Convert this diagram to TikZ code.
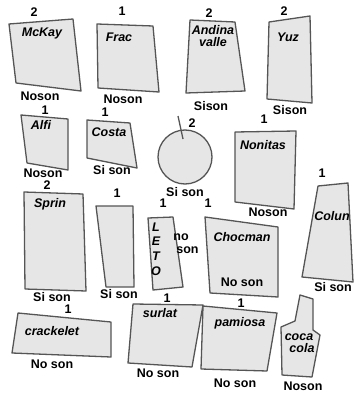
\documentclass[tikz,border=0pt]{standalone}
\usepackage{fontspec}
\setmainfont{Liberation Sans}
\usepackage{tikz}
\definecolor{piecefill}{RGB}{230,230,230}
\definecolor{pieceline}{RGB}{85,85,85}
\tikzstyle{piece} = [draw=pieceline, fill=piecefill, line width=1.3pt, line join=round]
\tikzstyle{piecename} = [font=\fontsize{12.5}{13}\selectfont\bfseries\itshape, inner sep=0pt, align=center]
\tikzstyle{count} = [font=\fontsize{12.5}{13}\selectfont\bfseries, inner sep=0pt]
\tikzstyle{son} = [font=\fontsize{12.5}{13}\selectfont\bfseries, inner sep=0pt, align=left]

\begin{document}
\begin{tikzpicture}[x=1pt, y=-1pt]
    \useasboundingbox (0,0) rectangle (355,393);
    % Define the pieces
    \draw [piece] (9,24) -- (73,19) -- (81,91) -- (16,83) -- cycle;
    \draw [piece] (97,24) -- (153,26) -- (159,92) -- (98,88) -- cycle;
    \draw [piece] (190,20) -- (235,22) -- (245,91) -- (186,93) -- cycle;
    \draw [piece] (269,22) -- (310,16) -- (312,103) -- (267,99) -- cycle;
    \draw [piece] (21,115) -- (68,119) -- (68,170) -- (27,163) -- cycle;
    \draw [piece] (87,120) -- (130,123) -- (137,168) -- (87,158) -- cycle;
    \draw [piece] (185,157) circle (27);
    \draw [draw=pieceline, line width=1.3pt] (178,116) -- (183,139);
    \draw [piece] (235,132) -- (296,131) -- (294,209) -- (235,202) -- cycle;
    \draw [piece] (318,186) -- (348,183) -- (353,282) -- (302,277) -- cycle;
    \draw [piece] (24,192) -- (83,194) -- (86,291) -- (25,289) -- cycle;
    \draw [piece] (96,206) -- (133,206) -- (134,287) -- (106,287) -- cycle;
    \draw [piece] (148,218) -- (173,217) -- (183,287) -- (153,290) -- cycle;
    \draw [piece] (205,217) -- (278,227) -- (278,297) -- (210,293) -- cycle;
    \draw [piece] (18,313) -- (111,322) -- (111,357) -- (12,353) -- cycle;
    \draw [piece] (133,304) -- (203,305) -- (192,367) -- (128,363) -- cycle;
    \draw [piece] (203,306) -- (277,313) -- (267,371) -- (201,369) -- cycle;
    \draw [piece] (300,295) -- (313,299) -- (313,330) -- (320,335) -- (312,377)
        -- (282,375) -- (281,327) -- (295,321) -- cycle;
    % Names
    \node [piecename] (mckay) at (42,33) {McKay};
    \node [piecename] (frac) at (119,37) {Frac};
    \node [piecename] (andina) at (213,36) {Andina\\[-1.5pt]valle};
    \node [piecename] (yuz) at (288,37) {Yuz};
    \node [piecename] (alfi) at (41,125) {Alfi};
    \node [piecename] (costa) at (109,132) {Costa};
    \node [piecename] (nonitas) at (263,145) {Nonitas};
    \node [piecename] (colun) at (332,216) {Colun};
    \node [piecename] (sprin) at (50,204) {Sprin};
    \node [piecename, font=\fontsize{12.5}{14.7}\selectfont\bfseries\itshape] (leto) at (156,249) {L\\E\\T\\O};
    \node [piecename] (chocman) at (242,237) {Chocman};
    \node [piecename] (crackelet) at (52,331) {crackelet};
    \node [piecename] (surlat) at (160,313) {surlat};
    \node [piecename] (pamiosa) at (240,323) {pamiosa};
    \node [piecename] (cocacola) at (299,343) {coca\\[-1.5pt]\hspace*{6pt}cola};
    % Counts
    \node [count] (n1) at (34,12) {2};
    \node [count] (n2) at (122,11) {1};
    \node [count] (n3) at (209,13) {2};
    \node [count] (n4) at (284,11) {2};
    \node [count] (n5) at (45,110) {1};
    \node [count] (n6) at (105,112) {1};
    \node [count] (n7) at (192,123) {2};
    \node [count] (n8) at (264,119) {1};
    \node [count] (n9) at (322,173) {1};
    \node [count] (n10) at (47,185) {2};
    \node [count] (n11) at (117,193) {1};
    \node [count] (n12) at (163,203) {1};
    \node [count] (n13) at (208,203) {1};
    \node [count] (n14) at (68,309) {1};
    \node [count] (n15) at (167,298) {1};
    \node [count] (n16) at (241,303) {1};
    % Sons
    \node [son] (s1) at (40,96) {Noson};
    \node [son] (s2) at (123,99) {Noson};
    \node [son] (s3) at (211,106) {Sison};
    \node [son] (s4) at (290,110) {Sison};
    \node [son] (s5) at (43,173) {Noson};
    \node [son] (s6) at (112,170) {Si son};
    \node [son] (s7) at (185,192) {Si son};
    \node [son] (s8) at (268,212) {Noson};
    \node [son] (s9) at (333,287) {Si son};
    \node [son] (s10) at (52,297) {Si son};
    \node [son] (s11) at (119,294) {Si son};
    \node [son] (s12) at (186,244) {no\\\hspace*{3pt}son};
    \node [son] (s13) at (242,282) {No son};
    \node [son] (s14) at (52,364) {No son};
    \node [son] (s15) at (158,373) {No son};
    \node [son] (s16) at (235,383) {No son};
    \node [son] (s17) at (303,386) {Noson};
\end{tikzpicture}
\end{document}
